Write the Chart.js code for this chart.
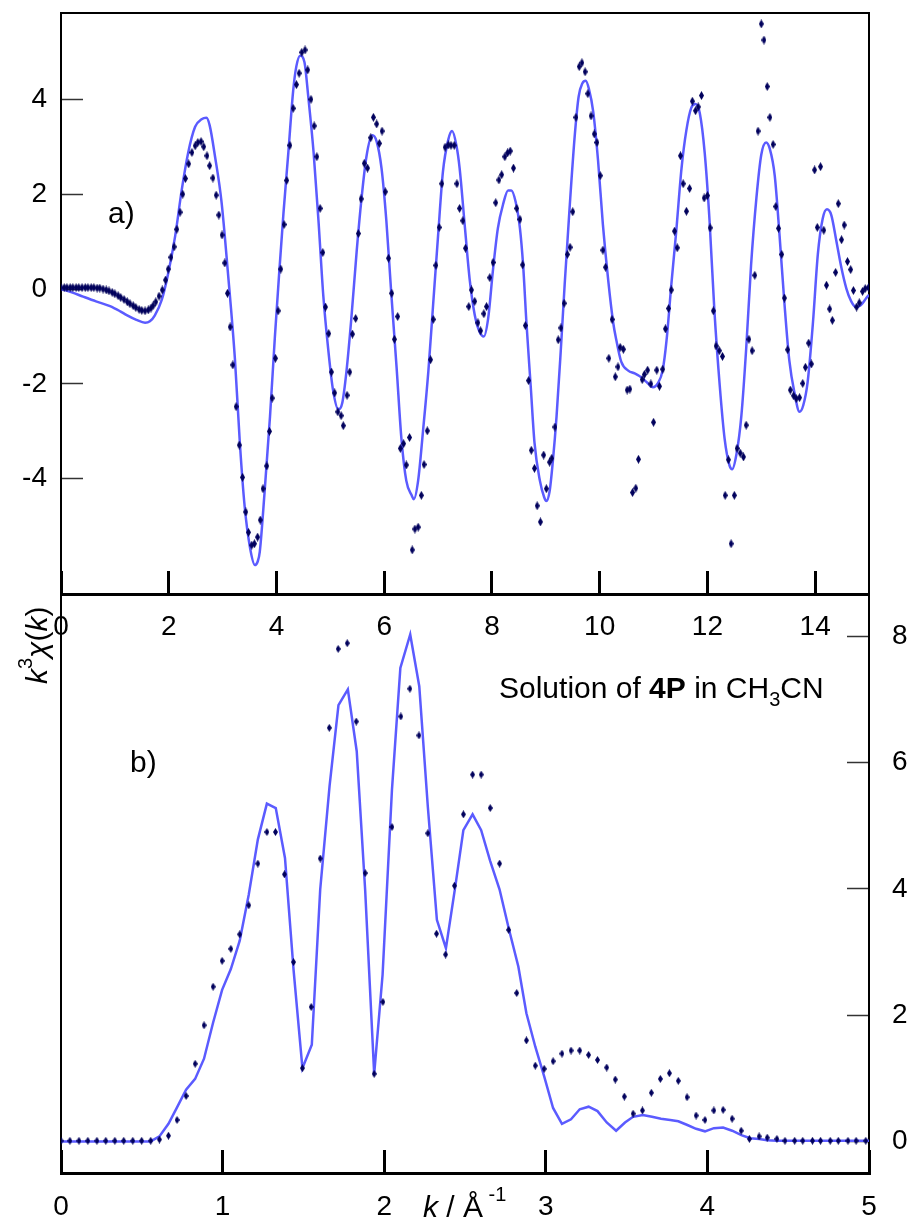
<!DOCTYPE html>
<html>
<head>
<meta charset="utf-8">
<script src="https://cdn.jsdelivr.net/npm/chart.js@4.4.1/dist/chart.umd.min.js"></script>
<style>
    html, body { margin: 0; padding: 0; background: #fff; }
    #wrap { position: relative; width: 910px; height: 1226px; }
    #wrap canvas { position: absolute; left: 0; top: 0; }
</style>
</head>
<body>
<div id="wrap">
    <canvas id="topChart" width="910" height="1226"></canvas>
    <canvas id="botChart" width="910" height="1226"></canvas>
</div>
<script>
// panel a) k^3 chi(k): measured points [k, chi]
const topMeasured = [
    [0.00,0.03],[0.06,0.03],[0.11,0.03],[0.17,0.03],[0.22,0.03],[0.28,0.03],[0.33,0.03],[0.39,0.03],
    [0.45,0.03],[0.50,0.03],[0.56,0.03],[0.61,0.03],[0.67,0.02],[0.72,0.02],[0.78,0.00],[0.84,-0.02],
    [0.89,-0.04],[0.95,-0.07],[1.00,-0.10],[1.06,-0.14],[1.11,-0.18],[1.17,-0.22],[1.23,-0.27],[1.28,-0.31],
    [1.34,-0.35],[1.39,-0.39],[1.45,-0.43],[1.50,-0.45],[1.56,-0.46],[1.62,-0.44],[1.67,-0.40],[1.71,-0.35],
    [1.76,-0.27],[1.82,-0.15],[1.88,-0.02],[1.94,0.19],[1.99,0.42],[2.04,0.67],[2.10,0.89],[2.15,1.26],
    [2.21,1.62],[2.26,2.00],[2.31,2.33],[2.37,2.64],[2.43,2.88],[2.49,3.02],[2.54,3.09],[2.60,3.11],
    [2.65,3.00],[2.71,2.81],[2.76,2.60],[2.82,2.34],[2.88,1.98],[2.93,1.56],[2.99,1.14],[3.04,0.55],
    [3.09,-0.09],[3.14,-0.80],[3.19,-1.60],[3.25,-2.48],[3.31,-3.29],[3.37,-3.97],[3.43,-4.70],[3.48,-5.13],
    [3.54,-5.40],[3.59,-5.37],[3.65,-5.23],[3.70,-4.87],[3.75,-4.21],[3.82,-3.73],[3.87,-3.00],[3.92,-2.30],
    [3.98,-1.46],[4.03,-0.46],[4.08,0.42],[4.14,1.36],[4.19,2.29],[4.25,3.03],[4.31,3.81],[4.37,4.31],
    [4.42,4.55],[4.47,4.99],[4.53,5.04],[4.58,4.62],[4.64,4.00],[4.70,3.44],[4.75,2.79],[4.81,1.70],
    [4.86,0.77],[4.91,-0.38],[4.97,-0.94],[5.02,-1.75],[5.08,-2.19],[5.14,-2.59],[5.20,-2.67],[5.24,-2.88],
    [5.31,-2.24],[5.36,-1.75],[5.41,-0.95],[5.47,-0.62],[5.52,1.17],[5.57,1.90],[5.63,2.65],[5.69,2.55],
    [5.75,3.19],[5.80,3.62],[5.86,3.48],[5.91,3.07],[5.96,3.33],[6.02,2.05],[6.08,0.65],[6.14,-0.09],
    [6.19,-1.06],[6.25,-0.58],[6.30,-3.36],[6.36,-3.26],[6.41,-3.71],[6.47,-3.13],[6.52,-5.50],[6.57,-5.06],
    [6.63,-5.02],[6.69,-4.35],[6.74,-3.70],[6.80,-2.99],[6.86,-1.49],[6.91,-0.64],[6.96,0.50],[7.02,1.30],
    [7.07,2.22],[7.13,2.99],[7.19,3.04],[7.24,3.03],[7.30,3.03],[7.35,2.22],[7.40,1.70],[7.46,1.44],
    [7.51,0.86],[7.57,-0.37],[7.62,-0.02],[7.68,-0.26],[7.74,-0.71],[7.79,-0.88],[7.85,-0.52],[7.90,-0.37],
    [7.96,0.24],[8.02,0.56],[8.07,1.82],[8.13,2.30],[8.18,2.41],[8.24,2.79],[8.29,2.87],[8.34,2.91],
    [8.40,2.55],[8.46,1.70],[8.52,1.47],[8.57,0.51],[8.62,-0.77],[8.68,-1.93],[8.73,-3.40],[8.79,-3.78],
    [8.84,-4.57],[8.90,-4.91],[8.96,-3.50],[9.01,-4.21],[9.07,-3.65],[9.11,-3.57],[9.17,-2.91],[9.23,-1.07],
    [9.28,-0.82],[9.34,-0.30],[9.40,0.73],[9.45,0.88],[9.50,1.63],[9.56,3.62],[9.62,4.69],[9.67,4.77],
    [9.73,4.58],[9.78,4.12],[9.84,3.65],[9.90,3.27],[9.95,3.09],[10.01,2.39],[10.06,0.82],[10.11,0.46],
    [10.17,-1.46],[10.23,-0.64],[10.29,-1.85],[10.34,-1.64],[10.38,-1.23],[10.44,-1.27],[10.51,-2.13],[10.56,-2.11],
    [10.61,-4.29],[10.67,-4.20],[10.72,-3.59],[10.79,-1.91],[10.83,-1.80],[10.89,-1.71],[10.95,-2.00],[11.00,-2.81],
    [11.06,-1.71],[11.11,-2.05],[11.17,-1.69],[11.22,-0.84],[11.28,-0.41],[11.33,-0.02],[11.39,1.22],[11.44,0.87],
    [11.50,2.81],[11.55,2.22],[11.61,1.64],[11.67,2.12],[11.72,3.96],[11.78,3.76],[11.83,3.84],[11.89,4.08],
    [11.94,1.92],[12.00,1.97],[12.05,1.29],[12.11,-0.46],[12.16,-1.20],[12.22,-1.30],[12.28,-1.42],[12.33,-4.35],
    [12.39,-3.60],[12.44,-5.37],[12.50,-4.35],[12.55,-3.36],[12.61,-3.46],[12.67,-3.54],[12.72,-2.87],[12.77,-1.06],
    [12.83,-1.30],[12.88,0.29],[12.94,3.33],[13.00,5.59],[13.05,5.25],[13.11,4.27],[13.16,3.62],[13.22,3.05],
    [13.27,1.74],[13.32,1.28],[13.38,0.73],[13.43,-0.19],[13.49,-1.28],[13.54,-2.13],[13.60,-2.25],[13.65,-2.31],
    [13.71,-2.29],[13.77,-1.99],[13.82,-1.65],[13.88,-1.14],[13.93,-1.58],[13.99,2.51],[14.04,1.30],[14.10,2.58],
    [14.16,1.24],[14.21,0.08],[14.27,-0.42],[14.32,-0.66],[14.38,0.35],[14.43,1.80],[14.49,1.04],[14.54,1.35],
    [14.60,0.58],[14.66,0.41],[14.71,-0.03],[14.77,-0.38],[14.82,-0.29],[14.88,-0.05],[14.93,0.01],[14.99,0.03]
];

// panel a) fitted curve [k, chi]
const topFit = [
    [0.00,0.00],[0.20,-0.07],[0.41,-0.16],[0.65,-0.26],[0.91,-0.36],[1.10,-0.47],[1.22,-0.55],[1.40,-0.65],
    [1.56,-0.71],[1.65,-0.68],[1.74,-0.56],[1.87,-0.23],[1.99,0.33],[2.12,1.12],[2.24,2.08],[2.36,2.87],
    [2.49,3.42],[2.61,3.58],[2.70,3.61],[2.76,3.45],[2.86,2.79],[2.98,1.84],[3.10,0.33],[3.23,-1.50],
    [3.32,-3.24],[3.41,-4.59],[3.51,-5.46],[3.60,-5.82],[3.65,-5.75],[3.69,-5.54],[3.78,-4.27],[3.88,-2.69],
    [3.97,-1.02],[4.05,0.33],[4.13,1.60],[4.22,2.87],[4.31,4.18],[4.37,4.70],[4.44,4.92],[4.52,4.78],
    [4.59,4.06],[4.69,2.87],[4.78,1.44],[4.87,-0.15],[4.96,-1.26],[5.05,-2.13],[5.15,-2.54],[5.22,-2.41],
    [5.30,-1.73],[5.39,-0.62],[5.49,0.81],[5.58,1.92],[5.67,2.79],[5.78,3.24],[5.86,3.11],[5.95,2.55],
    [6.04,1.44],[6.13,-0.07],[6.23,-1.65],[6.32,-3.16],[6.41,-4.04],[6.51,-4.35],[6.55,-4.43],[6.63,-4.04],
    [6.72,-3.00],[6.82,-1.73],[6.91,-0.30],[7.00,1.12],[7.09,2.47],[7.19,3.15],[7.26,3.33],[7.34,3.03],
    [7.40,2.55],[7.50,1.28],[7.59,0.17],[7.68,-0.54],[7.77,-0.90],[7.85,-1.00],[7.93,-0.62],[8.02,0.41],
    [8.11,1.28],[8.21,1.80],[8.30,2.08],[8.36,2.08],[8.44,1.84],[8.52,1.28],[8.58,0.49],[8.64,-0.70],
    [8.72,-2.05],[8.79,-3.24],[8.89,-4.04],[8.97,-4.39],[9.01,-4.47],[9.07,-4.27],[9.13,-3.64],[9.20,-2.68],
    [9.28,-1.26],[9.35,0.09],[9.44,1.68],[9.54,3.27],[9.61,4.06],[9.68,4.34],[9.74,4.39],[9.80,4.22],
    [9.88,3.74],[9.97,2.71],[10.06,1.36],[10.16,0.17],[10.25,-0.70],[10.31,-1.08],[10.40,-1.53],[10.53,-1.72],
    [10.65,-1.78],[10.77,-1.86],[10.88,-1.97],[10.99,-2.07],[11.08,-1.99],[11.17,-1.71],[11.24,-1.10],[11.33,0.09],
    [11.42,1.20],[11.52,2.55],[11.61,3.35],[11.70,3.82],[11.78,3.90],[11.86,3.70],[11.95,2.87],[12.04,1.44],
    [12.13,-0.46],[12.23,-2.05],[12.32,-3.16],[12.41,-3.72],[12.46,-3.80],[12.54,-3.48],[12.63,-2.68],[12.72,-1.26],
    [12.81,0.49],[12.91,1.92],[13.00,2.83],[13.09,3.09],[13.16,2.95],[13.25,2.39],[13.34,1.12],[13.43,-0.30],
    [13.52,-1.50],[13.62,-2.21],[13.71,-2.59],[13.78,-2.45],[13.86,-1.97],[13.96,-0.70],[14.05,0.73],[14.14,1.48],
    [14.22,1.68],[14.30,1.56],[14.39,1.04],[14.48,0.49],[14.58,0.01],[14.67,-0.26],[14.76,-0.38],[14.85,-0.34],
    [14.95,-0.19],[15.00,-0.12]
];

// panel b) Fourier transform magnitude: measured points [R, |FT|]
const botMeasured = [
    [0.000,0.01],[0.055,0.01],[0.111,0.01],[0.166,0.01],[0.222,0.01],[0.277,0.01],[0.333,0.01],[0.388,0.01],
    [0.444,0.01],[0.499,0.01],[0.555,0.01],[0.609,0.03],[0.665,0.09],[0.718,0.34],[0.774,0.72],[0.830,1.23],
    [0.885,1.84],[0.941,2.45],[0.997,2.86],[1.051,3.05],[1.106,3.28],[1.162,3.74],[1.218,4.40],[1.274,4.90],
    [1.327,4.90],[1.383,4.23],[1.439,2.84],[1.494,1.16],[1.548,2.13],[1.604,4.48],[1.660,6.55],[1.715,7.80],
    [1.771,7.89],[1.827,6.65],[1.882,4.25],[1.938,1.07],[1.992,2.21],[2.048,4.98],[2.103,6.73],[2.159,7.17],
    [2.215,6.43],[2.270,4.88],[2.324,3.29],[2.380,2.96],[2.435,4.05],[2.490,5.18],[2.547,5.81],[2.600,5.81],
    [2.656,5.28],[2.714,4.40],[2.770,3.35],[2.820,2.35],[2.880,1.60],[2.935,1.20],[2.990,1.15],[3.045,1.27],
    [3.100,1.39],[3.156,1.44],[3.210,1.44],[3.265,1.37],[3.320,1.29],[3.377,1.17],[3.430,0.98],[3.486,0.71],
    [3.540,0.44],[3.598,0.49],[3.653,0.77],[3.709,0.99],[3.765,1.08],[3.820,0.96],[3.874,0.70],[3.930,0.41],
    [3.985,0.34],[4.040,0.49],[4.097,0.50],[4.153,0.36],[4.209,0.17],[4.260,0.04],[4.320,0.08],[4.370,0.06],
    [4.430,0.04],[4.480,0.01],[4.540,0.01],[4.590,0.01],[4.650,0.01],[4.700,0.01],[4.760,0.01],[4.810,0.01],
    [4.870,0.01],[4.920,0.01],[4.980,0.01]
];

// panel b) fitted curve [R, |FT|]
const botFit = [
    [0.000,0.00],[0.555,0.00],[0.609,0.08],[0.665,0.28],[0.718,0.54],[0.774,0.82],[0.830,0.99],[0.885,1.31],
    [0.941,1.88],[0.997,2.40],[1.051,2.73],[1.106,3.18],[1.162,3.91],[1.218,4.78],[1.274,5.35],[1.329,5.28],
    [1.386,4.49],[1.439,2.72],[1.494,1.16],[1.552,1.53],[1.604,3.99],[1.662,5.63],[1.717,6.91],[1.775,7.16],
    [1.830,6.18],[1.882,3.99],[1.938,1.07],[1.990,2.64],[2.048,5.57],[2.100,7.50],[2.161,8.03],[2.217,7.21],
    [2.270,5.30],[2.326,3.51],[2.382,3.06],[2.440,4.04],[2.490,4.93],[2.547,5.18],[2.600,4.93],[2.656,4.44],
    [2.714,3.99],[2.770,3.38],[2.830,2.77],[2.880,2.03],[2.935,1.50],[2.990,1.03],[3.045,0.53],[3.100,0.28],
    [3.156,0.35],[3.210,0.51],[3.265,0.55],[3.320,0.48],[3.377,0.30],[3.435,0.17],[3.490,0.30],[3.540,0.39],
    [3.600,0.42],[3.657,0.39],[3.713,0.36],[3.770,0.34],[3.820,0.32],[3.876,0.26],[3.930,0.20],[3.985,0.16],
    [4.040,0.21],[4.097,0.22],[4.153,0.17],[4.210,0.10],[4.265,0.05],[4.320,0.04],[4.370,0.02],[4.430,0.01],
    [5.000,0.01]
];

const topXTicks = [0, 2, 4, 6, 8, 10, 12, 14];
const topYTicks = [-4, -2, 0, 2, 4];
const botXTicks = [0, 1, 2, 3, 4, 5];
const botYTicks = [0, 2, 4, 6, 8];

const FONT = '"Liberation Sans", Arial, sans-serif';
const LINE_COLOR = '#5b5bff';
const DOT_COLOR = '#00005c';

Chart.defaults.font.family = FONT;
Chart.defaults.color = '#000';

function makeDiamond(w, h, color) {
    const c = document.createElement('canvas');
    c.width = w;
    c.height = h;
    const g = c.getContext('2d');
    g.fillStyle = color;
    g.beginPath();
    g.moveTo(w / 2, 0);
    g.lineTo(w, h / 2);
    g.lineTo(w / 2, h);
    g.lineTo(0, h / 2);
    g.closePath();
    g.fill();
    return c;
}

const toXY = pairs => pairs.map(([x, y]) => ({ x, y }));
const fixTicks = list => scale => { scale.ticks = list.map(v => ({ value: v })); };

// force an axis to an exact size and stop its labels from pushing the plot area around
function fixSize(horizontal, size) {
    return scale => {
        if (horizontal) scale.height = size;
        else scale.width = size;
        scale.paddingTop = 0;
        scale.paddingBottom = 0;
        scale.paddingLeft = 0;
        scale.paddingRight = 0;
    };
}

// text pieces with mixed styles, drawn left to right from (x, y) baseline
function drawRuns(ctx, x, y, runs) {
    runs.forEach(r => {
        ctx.font = r.font;
        ctx.fillText(r.text, x, y + (r.dy || 0));
        x += ctx.measureText(r.text).width;
    });
}

function tickAxis(pos, opts) {
    const horizontal = pos === 'top' || pos === 'bottom';
    return {
        type: 'linear',
        position: pos,
        min: opts.min,
        max: opts.max,
        afterBuildTicks: fixTicks(opts.ticks),
        afterFit: fixSize(horizontal, opts.size),
        grid: {
            drawOnChartArea: false,
            drawTicks: true,
            tickLength: opts.tickLength,
            tickWidth: opts.tickWidth,
            tickColor: opts.tickColor
        },
        border: { display: true, color: '#000', width: opts.borderWidth },
        ticks: {
            color: '#000',
            font: { family: FONT, size: 28 },
            padding: opts.padding,
            autoSkip: false,
            maxRotation: 0
        }
    };
}

function frameAxis(pos, min, max, size) {
    const horizontal = pos === 'top' || pos === 'bottom';
    return {
        type: 'linear',
        position: pos,
        min: min,
        max: max,
        grid: { drawOnChartArea: false, drawTicks: false },
        border: { display: true, color: '#000', width: 2 },
        ticks: { display: false },
        afterFit: fixSize(horizontal, size)
    };
}

const topLabels = {
    id: 'topLabels',
    afterDraw(chart) {
        const ctx = chart.ctx;
        ctx.save();
        ctx.fillStyle = '#000';
        ctx.textBaseline = 'alphabetic';
        ctx.font = `30px ${FONT}`;
        ctx.fillText('a)', 108, 223);
        ctx.restore();
    }
};

const botLabels = {
    id: 'botLabels',
    afterDraw(chart) {
        const ctx = chart.ctx;
        ctx.save();
        ctx.fillStyle = '#000';
        ctx.textBaseline = 'alphabetic';
        ctx.textAlign = 'left';

        ctx.font = `30px ${FONT}`;
        ctx.fillText('b)', 130, 772);

        drawRuns(ctx, 499, 698, [
            { text: 'Solution of ', font: `30px ${FONT}` },
            { text: '4P', font: `bold 30px ${FONT}` },
            { text: ' in CH', font: `30px ${FONT}` },
            { text: '3', font: `20px ${FONT}`, dy: 8 },
            { text: 'CN', font: `30px ${FONT}` }
        ]);

        // x title: k / Å^-1
        drawRuns(ctx, 423, 1217, [
            { text: 'k', font: `italic 30px ${FONT}` },
            { text: ' / ', font: `30px ${FONT}` },
            { text: 'Å', font: `30px ${FONT}` },
            { text: ' -1', font: `20px ${FONT}`, dy: -16 }
        ]);

        // y title: k^3 chi(k), rotated
        ctx.translate(47, 684);
        ctx.rotate(-Math.PI / 2);
        drawRuns(ctx, 0, 0, [
            { text: 'k', font: `italic 30px ${FONT}` },
            { text: '3', font: `20px ${FONT}`, dy: -15 },
            { text: 'χ', font: `italic 30px ${FONT}` },
            { text: '(', font: `30px ${FONT}` },
            { text: 'k', font: `italic 30px ${FONT}` },
            { text: ')', font: `30px ${FONT}` }
        ]);
        ctx.restore();
    }
};

new Chart(document.getElementById('topChart'), {
    type: 'scatter',
    data: {
        datasets: [{
            label: 'fit',
            data: toXY(topFit),
            showLine: true,
            borderColor: LINE_COLOR,
            borderWidth: 2.5,
            pointRadius: 0,
            cubicInterpolationMode: 'monotone',
            order: 1
        }, {
            label: 'experiment',
            data: toXY(topMeasured),
            pointStyle: makeDiamond(5, 9, DOT_COLOR),
            pointRadius: 3,
            order: 0
        }]
    },
    options: {
        responsive: false,
        animation: false,
        layout: { padding: { left: 0, right: 41, top: 13, bottom: 572 } },
        plugins: { legend: { display: false }, tooltip: { enabled: false } },
        scales: {
            x: tickAxis('bottom', {
                min: 0, max: 15, ticks: topXTicks, size: 60,
                tickLength: -23, tickWidth: 3, tickColor: '#000', borderWidth: 3, padding: 39
            }),
            y: tickAxis('left', {
                min: -6.43, max: 5.82, ticks: topYTicks, size: 61,
                tickLength: -22, tickWidth: 1.5, tickColor: '#333', borderWidth: 2, padding: 36
            }),
            xFrame: frameAxis('top', 0, 15, 0),
            yFrame: frameAxis('right', -6.43, 5.82, 0)
        }
    },
    plugins: [topLabels]
});

new Chart(document.getElementById('botChart'), {
    type: 'scatter',
    data: {
        datasets: [{
            label: 'fit',
            data: toXY(botFit),
            showLine: true,
            borderColor: LINE_COLOR,
            borderWidth: 2.5,
            pointRadius: 0,
            tension: 0,
            order: 1
        }, {
            label: 'experiment',
            data: toXY(botMeasured),
            pointStyle: makeDiamond(5, 8, DOT_COLOR),
            pointRadius: 3,
            order: 0
        }]
    },
    options: {
        responsive: false,
        animation: false,
        layout: { padding: { left: 0, right: 0, top: 594, bottom: 0 } },
        plugins: { legend: { display: false }, tooltip: { enabled: false } },
        scales: {
            x: tickAxis('bottom', {
                min: 0, max: 5, ticks: botXTicks, size: 53,
                tickLength: -23, tickWidth: 3, tickColor: '#000', borderWidth: 3, padding: 40
            }),
            y: tickAxis('right', {
                min: -0.5, max: 8.67, ticks: botYTicks, size: 41,
                tickLength: -22, tickWidth: 1.5, tickColor: '#333', borderWidth: 2, padding: 45
            }),
            yFrame: frameAxis('left', -0.5, 8.67, 61)
        }
    },
    plugins: [botLabels]
});
</script>
</body>
</html>
